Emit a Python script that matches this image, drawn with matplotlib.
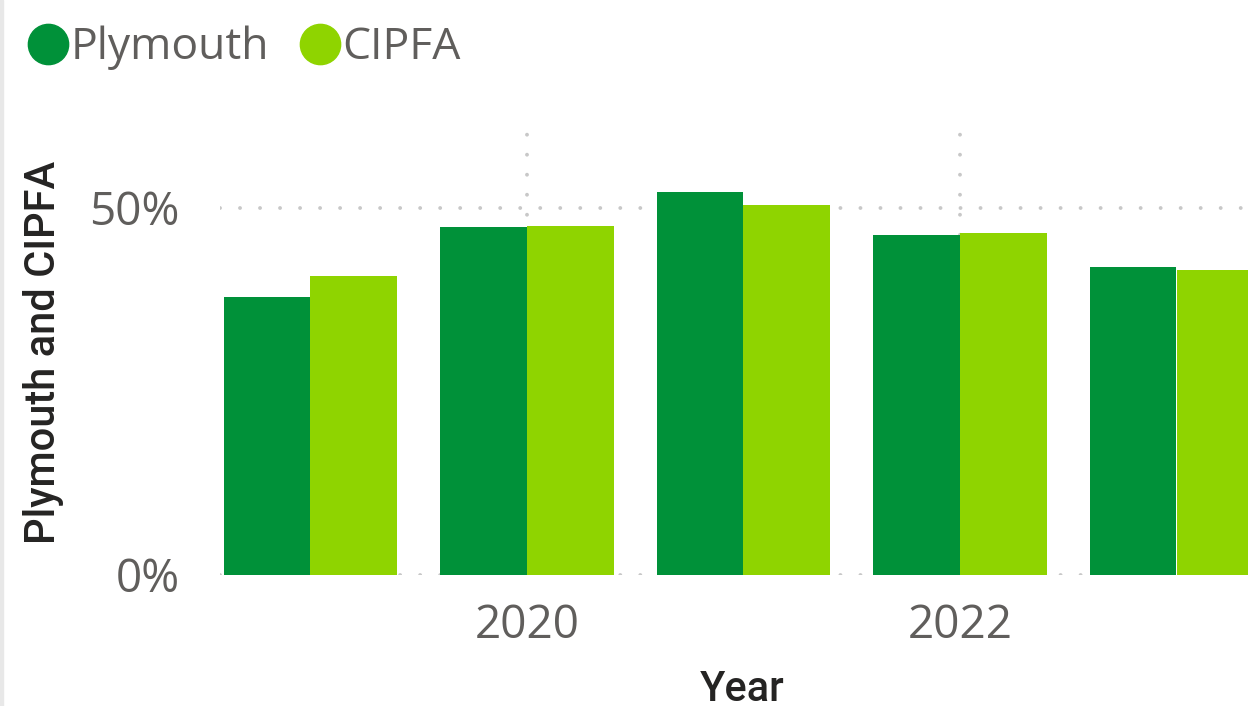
import matplotlib
matplotlib.use('Agg')
import matplotlib.pyplot as plt
import numpy as np
from matplotlib.lines import Line2D
from matplotlib.patches import Rectangle

# data
years = [2019, 2020, 2021, 2022, 2023]
plymouth = [37.9, 47.4, 52.2, 46.3, 42.0]
cipfa = [40.7, 47.5, 50.4, 46.6, 41.6]
series_names = ['Plymouth', 'CIPFA']
y_ticks = [0, 50]
y_tick_labels = ['0%', '50%']
x_ticks = [2020, 2022]

dark_green = '#009139'
light_green = '#8FD400'
grid_col = '#C8C8C8'
tick_col = '#605E5C'
title_col = '#252423'

plt.rcParams['font.family'] = ['Open Sans', 'DejaVu Sans']
plt.rcParams['lines.scale_dashes'] = False

W, H = 1248, 706
fig = plt.figure(figsize=(W / 100, H / 100), dpi=100)

# axes placed in pixels: x from 220 to right edge, y=0 at 575px, 50% at 208px
px_per_pct = (575 - 208) / 50
top_pct = 60.5
ax = fig.add_axes([220 / W, (H - 575) / H, (W - 220) / W, top_pct * px_per_pct / H])

x = np.array(years)
bw = 0.4
ax.bar(x - bw / 2, plymouth, width=bw, color=dark_green, zorder=2)
ax.bar(x + bw / 2, cipfa, width=bw, color=light_green, zorder=2)

# 2019 centre at 310.5px, 216.5px per year
px_per_year = 216.5
ax.set_xlim(2019 - 90.5 / px_per_year, 2019 + (W - 310.5) / px_per_year)
ax.set_ylim(0, top_pct)

ax.set_xticks(x_ticks)
ax.set_xticklabels([str(t) for t in x_ticks])
ax.set_yticks(y_ticks)
ax.set_yticklabels(y_tick_labels)
ax.tick_params(axis='both', length=0, labelsize=33, labelcolor=tick_col)
ax.tick_params(axis='x', pad=20)
ax.tick_params(axis='y', pad=29)

# dotted grid: tiny dashes with round caps give dots 20px apart
dots = (0, (0.01, 14.4))
for yv in y_ticks:
    ax.axhline(yv, color=grid_col, linestyle=dots, linewidth=2.8,
               dash_capstyle='round', zorder=1)
for xv in x_ticks:
    ax.axvline(xv, color=grid_col, linestyle=dots, linewidth=2.8,
               dash_capstyle='round', zorder=1)
for s in ax.spines.values():
    s.set_visible(False)

# axis titles
fig.text(44 / W, (H - 352) / H, 'Plymouth and CIPFA', rotation=90, ha='center', va='center',
         fontsize=30, color=title_col, family=['Roboto', 'DejaVu Sans'], fontweight='medium')
fig.text(742 / W, 5 / H, 'Year', ha='center', va='baseline',
         fontsize=30, color=title_col, family=['Roboto', 'DejaVu Sans'], fontweight='medium')

# legend
handles = [Line2D([], [], marker='o', linestyle='none', markersize=29, color=c)
           for c in [dark_green, light_green]]
leg = fig.legend(handles, series_names, loc='upper left', bbox_to_anchor=(8 / W, 1 - 8 / H),
                 ncol=2, frameon=False, fontsize=32, labelcolor=tick_col,
                 handletextpad=0.0, columnspacing=0.65, handlelength=1.0, borderaxespad=0)

# light border on the left edge
fig.patches.append(Rectangle((0, 0), 3 / W, 1, transform=fig.transFigure,
                             color='#E8E8E8', zorder=0))

fig.savefig('out.png', dpi=100)
